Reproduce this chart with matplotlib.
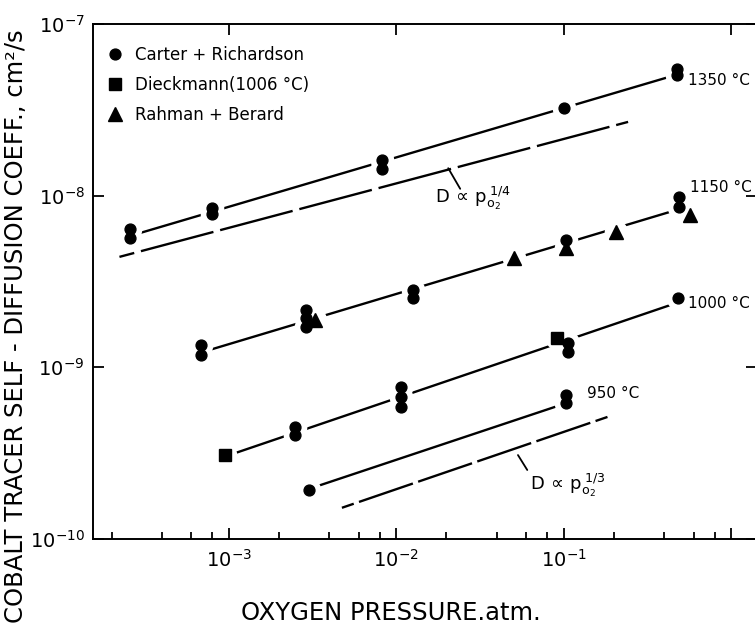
import matplotlib
matplotlib.use("Agg")
import matplotlib.pyplot as plt
from matplotlib.ticker import FixedLocator, NullLocator, NullFormatter

plt.rcParams['font.family'] = ['DejaVu Sans']
plt.rcParams['mathtext.fontset'] = 'dejavusans'
plt.rcParams['lines.scale_dashes'] = False

# ---------------- data ----------------
# Carter + Richardson (circles)
cr1350_p = [2.57e-4, 2.57e-4, 8.0e-4, 8.0e-4, 8.2e-3, 8.2e-3, 0.100, 0.478, 0.478]
cr1350_d = [6.40e-9, 5.67e-9, 8.47e-9, 7.81e-9, 1.61e-8, 1.43e-8, 3.24e-8, 5.47e-8, 5.05e-8]
cr1150_p = [6.84e-4, 6.84e-4, 2.88e-3, 2.88e-3, 2.88e-3, 1.27e-2, 1.27e-2, 0.104, 0.489, 0.489]
cr1150_d = [1.35e-9, 1.18e-9, 2.16e-9, 1.94e-9, 1.72e-9, 2.83e-9, 2.54e-9, 5.52e-9, 9.8e-9, 8.6e-9]
cr1000_p = [2.5e-3, 2.5e-3, 1.07e-2, 1.07e-2, 1.07e-2, 0.106, 0.106, 0.484]
cr1000_d = [4.5e-10, 4.04e-10, 7.69e-10, 6.73e-10, 5.88e-10, 1.39e-9, 1.23e-9, 2.54e-9]
cr950_p = [3.03e-3, 0.104, 0.104]
cr950_d = [1.93e-10, 6.9e-10, 6.2e-10]
# Dieckmann (1006 C) squares
dk_p = [9.5e-4, 9.2e-2]
dk_d = [3.09e-10, 1.48e-9]
# Rahman + Berard triangles (1150 C)
rb_p = [3.3e-3, 5.07e-2, 0.104, 0.206, 0.566]
rb_d = [1.89e-9, 4.33e-9, 4.96e-9, 6.15e-9, 7.73e-9]

# fitted isotherms
fit_labels = ['1350 °C', '1150 °C', '1000 °C', '950 °C']
fit_p = [[2.57e-4, 0.478], [6.84e-4, 0.489], [9.5e-4, 0.484], [3.03e-3, 0.104]]
fit_d = [[5.82e-9, 5.08e-8], [1.22e-9, 8.34e-9], [3.02e-10, 2.39e-9], [1.96e-10, 6.19e-10]]

# slope reference lines D ~ pO2^n
ref_labels = ['1/4', '1/3']
ref_p = [[2.23e-4, 0.243], [4.75e-3, 0.183]]
ref_d = [[4.40e-9, 2.69e-8], [1.52e-10, 5.14e-10]]

legend_labels = ['Carter + Richardson', 'Dieckmann(1006 °C)', 'Rahman + Berard']
x_ticks = [1e-3, 1e-2, 1e-1, 1e0]
x_ticklabels = [r'$10^{-3}$', r'$10^{-2}$', r'$10^{-1}$', '']
x_minor_decades = [1e-4, 1e-3, 1e-2, 1e-1]
x_minor_subs = [2, 4, 6, 8]
y_ticks = [1e-10, 1e-9, 1e-8, 1e-7]
y_ticklabels = [r'$10^{-10}$', r'$10^{-9}$', r'$10^{-8}$', r'$10^{-7}$']

# ---------------- figure ----------------
W, H = 755, 634
fig = plt.figure(figsize=(W / 100, H / 100), dpi=100)
ax = fig.add_axes([93 / W, 95 / H, 664 / W, 515 / H])
ax.set_xscale('log')
ax.set_yscale('log')

for s in ax.spines.values():
    s.set_linewidth(1.4)

# fitted lines
for px, dy in zip(fit_p, fit_d):
    ax.plot(px, dy, color='k', lw=1.7, solid_capstyle='butt', zorder=2)

# reference dashed lines
dash_styles = [(43, (54, 5)), (32, (41, 4))]
for px, dy, ls in zip(ref_p, ref_d, dash_styles):
    ax.plot(px, dy, color='k', lw=1.7, linestyle=ls, dash_capstyle='butt', zorder=2)

# white halos so lines stop short of the symbols
all_p = cr1350_p + cr1150_p + cr1000_p + cr950_p + dk_p + rb_p
all_d = cr1350_d + cr1150_d + cr1000_d + cr950_d + dk_d + rb_d
ax.plot(all_p, all_d, 'o', ms=17, color='white', mec='none', ls='none', zorder=3)

mk = dict(color='k', ls='none', zorder=4)
h_c = None
for px, dy in [(cr1350_p, cr1350_d), (cr1150_p, cr1150_d), (cr1000_p, cr1000_d), (cr950_p, cr950_d)]:
    h, = ax.plot(px, dy, 'o', ms=7.8, **mk)
    if h_c is None:
        h_c = h
h_s, = ax.plot(dk_p, dk_d, 's', ms=9, **mk)
h_t, = ax.plot(rb_p, rb_d, '^', ms=9.5, **mk)

# ticks
ax.xaxis.set_major_locator(FixedLocator(x_ticks))
ax.set_xticklabels(x_ticklabels)
ax.xaxis.set_minor_locator(FixedLocator([m * d for d in x_minor_decades for m in x_minor_subs]))
ax.xaxis.set_minor_formatter(NullFormatter())
ax.yaxis.set_major_locator(FixedLocator(y_ticks))
ax.set_yticklabels(y_ticklabels)
ax.yaxis.set_minor_locator(NullLocator())
ax.tick_params(which='major', direction='in', length=8, width=1.3, top=True, right=True,
               labelsize=14)
ax.tick_params(axis='x', which='minor', direction='in', length=5, width=1.3,
               bottom=True, top=False)
ax.tick_params(axis='x', pad=7)
ax.tick_params(axis='y', pad=6)
ax.set_xlim(1.55e-4, 1.43)
ax.set_ylim(1e-10, 1e-7)

# legend
ax.legend([h_c, h_s, h_t], legend_labels, loc='upper left', bbox_to_anchor=(0.0226, 0.958),
          frameon=False, fontsize=12, handlelength=0.8, handletextpad=0.8,
          labelspacing=0.72, borderaxespad=0, borderpad=0, numpoints=1)

# temperature labels
temp_pos = [(0.896, 0.891), (0.899, 0.683), (0.896, 0.458), (0.744, 0.283)]
for lab, (xf, yf) in zip(fit_labels, temp_pos):
    ax.text(xf, yf, lab, transform=ax.transAxes, fontsize=11, ha='left', va='center')

# slope annotations
lead = [((0.535, 0.720), (0.553, 0.680)), ((0.640, 0.163), (0.654, 0.134))]
txt_pos = [(0.515, 0.652), (0.658, 0.095)]
for lab, (a, b), tp in zip(ref_labels, lead, txt_pos):
    ax.annotate('', xy=a, xytext=b, xycoords='axes fraction', textcoords='axes fraction',
                arrowprops=dict(arrowstyle='-', lw=1.3, color='k', shrinkA=0, shrinkB=0))
    ax.text(tp[0], tp[1], r'$\mathrm{D}\,\propto\,\mathrm{p}_{\mathrm{o}_2}^{\;%s}$' % lab,
            transform=ax.transAxes, fontsize=13, ha='left', va='baseline')

# axis titles
fig.text(391 / W, 1 - 613 / H, 'OXYGEN PRESSURE.atm.', fontsize=17.5, ha='center', va='center')
fig.text(16 / W, 1 - 326 / H, 'COBALT TRACER SELF - DIFFUSION COEFF., cm²/s', fontsize=17.5,
         rotation=90, ha='center', va='center')

fig.savefig('out.png', dpi=100)
